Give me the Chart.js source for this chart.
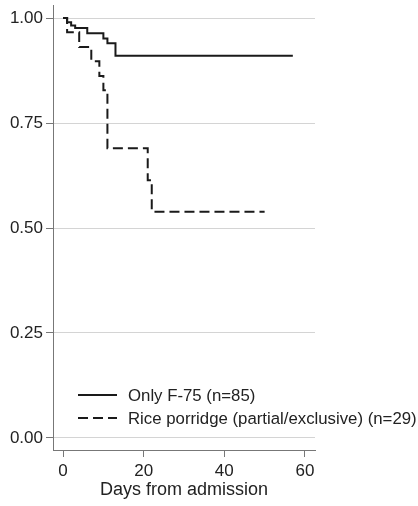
<!DOCTYPE html>
<html>
<head>
<meta charset="utf-8">
<script src="https://cdn.jsdelivr.net/npm/chart.js@4/dist/chart.umd.min.js"></script>
<style>
    body { margin: 0; background: #fff; }
    #km-chart { display: block; }
</style>
</head>
<body>
<canvas id="km-chart" width="418" height="506"></canvas>
<script>
// survival data (day of event, survival after event)
const seriesLabels = ["Only F-75 (n=85)", "Rice porridge (partial/exclusive) (n=29)"];
const f75Days = [0, 1, 2, 3, 6, 10, 11, 13, 57];
const f75Surv = [1.00, 0.990, 0.982, 0.976, 0.964, 0.951, 0.940, 0.910, 0.910];
const riceDays = [0, 1, 4, 7, 9, 10, 11, 21, 22, 50];
const riceSurv = [1.00, 0.966, 0.931, 0.897, 0.862, 0.828, 0.690, 0.614, 0.539, 0.539];
const xTicks = [0, 20, 40, 60];
const yTicks = [0, 0.25, 0.5, 0.75, 1];

const textColor = "#222";
const axisColor = "#777";
const fontFamily = "'Liberation Sans', Arial, sans-serif";

// zips days and survival into {x, y} points
function toPoints(days, surv) {
    return days.map((d, i) => ({ x: d, y: surv[i] }));
}

// legend drawn inside the plot, it runs past the right edge like the original
const insideLegend = {
    id: "insideLegend",
    afterDraw(chart) {
        const ctx = chart.ctx;
        const rows = [395, 418];
        ctx.save();
        ctx.font = "16.8px " + fontFamily;
        ctx.textBaseline = "middle";
        ctx.fillStyle = textColor;
        chart.data.datasets.forEach((ds, i) => {
            let y = rows[i];
            ctx.beginPath();
            ctx.setLineDash(ds.borderDash || []);
            ctx.strokeStyle = ds.borderColor;
            ctx.lineWidth = ds.borderWidth;
            ctx.moveTo(78, y);
            ctx.lineTo(117, y);
            ctx.stroke();
            ctx.fillText(ds.label, 128, y + 1);
        });
        ctx.restore();
    },
};

let ctx = document.getElementById("km-chart").getContext("2d");

let kmChart = new Chart(ctx, {
    type: "line",
    data: {
        datasets: [
            {
                label: seriesLabels[0],
                data: toPoints(f75Days, f75Surv),
                borderColor: "#1a1a1a",
                borderWidth: 2,
                stepped: "before",
                pointRadius: 0,
                fill: false,
            },
            {
                label: seriesLabels[1],
                data: toPoints(riceDays, riceSurv),
                borderColor: "#1a1a1a",
                borderWidth: 2,
                borderDash: [10, 5],
                stepped: "before",
                pointRadius: 0,
                fill: false,
            },
        ],
    },
    options: {
        responsive: false,
        animation: false,
        layout: {
            padding: { top: 5, right: 103, left: 0, bottom: 0 },
        },
        plugins: {
            legend: { display: false },
            tooltip: { enabled: false },
        },
        scales: {
            x: {
                type: "linear",
                min: -2.5,
                max: 62.5,
                afterBuildTicks: (scale) => {
                    scale.ticks = xTicks.map((v) => ({ value: v }));
                },
                afterFit: (scale) => {
                    scale.height = 56;
                    scale.paddingLeft = 0;
                    scale.paddingRight = 0;
                },
                grid: {
                    display: true,
                    drawOnChartArea: false,
                    drawTicks: true,
                    tickLength: 7,
                    tickColor: axisColor,
                },
                border: { color: axisColor, width: 1 },
                ticks: {
                    color: textColor,
                    padding: 4,
                    maxRotation: 0,
                    font: { family: fontFamily, size: 17 },
                },
                title: {
                    display: true,
                    text: "Days from admission",
                    color: textColor,
                    padding: { top: 0, bottom: 5 },
                    font: { family: fontFamily, size: 18 },
                },
            },
            y: {
                type: "linear",
                min: -0.0286,
                max: 1.031,
                afterBuildTicks: (scale) => {
                    scale.ticks = yTicks.map((v) => ({ value: v }));
                },
                afterFit: (scale) => {
                    scale.width = 53;
                    // no extra room for label overhang, plot starts at the top padding
                    scale.paddingTop = 0;
                    scale.paddingBottom = 0;
                },
                grid: {
                    color: "#d4d4d4",
                    tickColor: axisColor,
                    tickLength: 7,
                },
                border: { color: axisColor, width: 1 },
                ticks: {
                    color: textColor,
                    padding: 3,
                    font: { family: fontFamily, size: 17 },
                    callback: (v) => v.toFixed(2),
                },
            },
        },
    },
    plugins: [insideLegend],
});
</script>
</body>
</html>
